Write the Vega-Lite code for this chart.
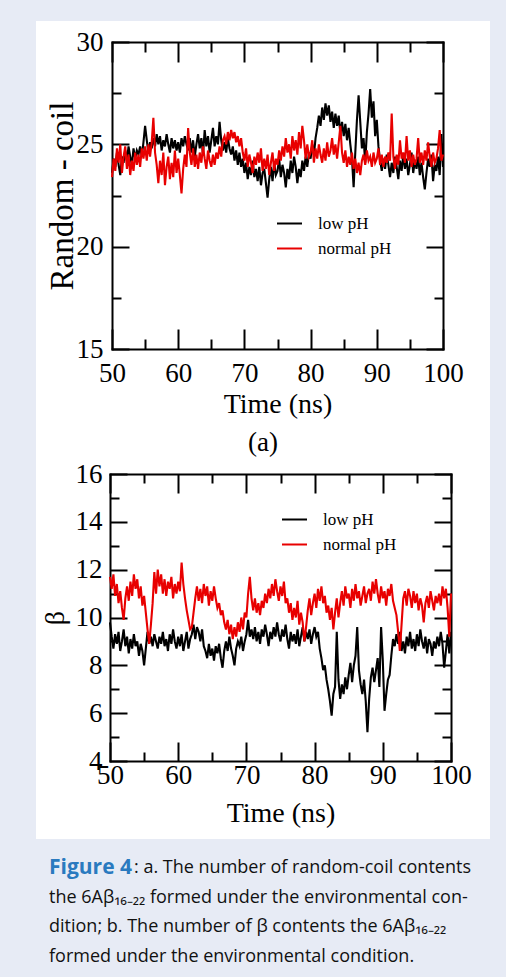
{
"$schema": "https://vega.github.io/schema/vega-lite/v6.json",
"background": "#e7ebf5",
"padding": {"left": 36, "top": 21, "right": 16, "bottom": 0},
"spacing": 0,
"bounds": "flush",
"config": {
  "view": {"fill": "white", "stroke": null},
  "axis": {"grid": false, "domainColor": "#000", "domainWidth": 2, "domainCap": "square", "tickColor": "#000", "tickWidth": 2, "labelFont": "Liberation Serif", "labelFontSize": 27, "labelColor": "#000", "labelFlush": false, "labelOverlap": false, "titleFont": "Liberation Serif", "titleFontWeight": "normal", "titleColor": "#000", "zindex": 1},
  "legend": {"orient": "none", "title": null, "symbolType": "stroke", "symbolSize": 625, "symbolStrokeWidth": 2, "labelFont": "Liberation Serif", "labelFontSize": 17, "labelColor": "#000", "labelOffset": 15, "rowPadding": 3, "padding": 0}
},
"resolve": {"scale": {"x": "independent", "y": "independent", "color": "independent"}, "legend": {"color": "independent"}},
"datasets": {
"rc": [
{"t":50,"low pH":23.6,"normal pH":23.4},{"t":50.25,"low pH":24.3,"normal pH":24.3},{"t":50.5,"low pH":23.9,"normal pH":23.7},{"t":50.75,"low pH":24.6,"normal pH":24.8},
{"t":51,"low pH":24.0,"normal pH":24.1},{"t":51.25,"low pH":23.5,"normal pH":25.0},{"t":51.5,"low pH":24.4,"normal pH":23.6},{"t":51.75,"low pH":24.1,"normal pH":24.4},
{"t":52,"low pH":24.7,"normal pH":24.9},{"t":52.25,"low pH":24.2,"normal pH":23.8},{"t":52.5,"low pH":24.9,"normal pH":24.5},{"t":52.75,"low pH":24.4,"normal pH":23.5},
{"t":53,"low pH":24.0,"normal pH":24.2},{"t":53.25,"low pH":24.8,"normal pH":23.7},{"t":53.5,"low pH":24.3,"normal pH":24.6},{"t":53.75,"low pH":24.7,"normal pH":24.0},
{"t":54,"low pH":24.5,"normal pH":24.5},{"t":54.25,"low pH":24.9,"normal pH":23.9},{"t":54.5,"low pH":24.4,"normal pH":24.8},{"t":54.75,"low pH":25.1,"normal pH":24.3},
{"t":55,"low pH":25.9,"normal pH":24.9},{"t":55.25,"low pH":25.2,"normal pH":24.2},{"t":55.5,"low pH":24.6,"normal pH":25.0},{"t":55.75,"low pH":25.1,"normal pH":24.4},
{"t":56,"low pH":24.8,"normal pH":25.1},{"t":56.25,"low pH":25.3,"normal pH":26.3},{"t":56.5,"low pH":24.9,"normal pH":24.6},{"t":56.75,"low pH":25.5,"normal pH":24.0},
{"t":57,"low pH":25.0,"normal pH":23.1},{"t":57.25,"low pH":25.4,"normal pH":24.2},{"t":57.5,"low pH":24.7,"normal pH":23.5},{"t":57.75,"low pH":25.2,"normal pH":24.6},
{"t":58,"low pH":24.9,"normal pH":23.0},{"t":58.25,"low pH":25.5,"normal pH":23.9},{"t":58.5,"low pH":25.0,"normal pH":24.4},{"t":58.75,"low pH":24.6,"normal pH":23.3},
{"t":59,"low pH":25.3,"normal pH":24.1},{"t":59.25,"low pH":24.8,"normal pH":23.4},{"t":59.5,"low pH":25.2,"normal pH":24.7},{"t":59.75,"low pH":24.7,"normal pH":23.6},
{"t":60,"low pH":25.1,"normal pH":24.3},{"t":60.25,"low pH":24.6,"normal pH":23.5},{"t":60.5,"low pH":25.3,"normal pH":22.6},{"t":60.75,"low pH":24.9,"normal pH":23.8},
{"t":61,"low pH":25.4,"normal pH":24.5},{"t":61.25,"low pH":25.0,"normal pH":23.9},{"t":61.5,"low pH":24.7,"normal pH":25.8},{"t":61.75,"low pH":25.3,"normal pH":24.6},
{"t":62,"low pH":24.6,"normal pH":24.0},{"t":62.25,"low pH":25.2,"normal pH":24.8},{"t":62.5,"low pH":24.4,"normal pH":23.9},{"t":62.75,"low pH":25.0,"normal pH":24.5},
{"t":63,"low pH":25.5,"normal pH":23.8},{"t":63.25,"low pH":24.8,"normal pH":24.6},{"t":63.5,"low pH":25.3,"normal pH":24.1},{"t":63.75,"low pH":24.5,"normal pH":24.9},
{"t":64,"low pH":25.7,"normal pH":24.3},{"t":64.25,"low pH":24.9,"normal pH":23.8},{"t":64.5,"low pH":25.4,"normal pH":24.7},{"t":64.75,"low pH":24.6,"normal pH":24.2},
{"t":65,"low pH":25.2,"normal pH":23.9},{"t":65.25,"low pH":25.8,"normal pH":24.5},{"t":65.5,"low pH":24.9,"normal pH":24.0},{"t":65.75,"low pH":25.4,"normal pH":24.6},
{"t":66,"low pH":25.0,"normal pH":24.3},{"t":66.25,"low pH":26.1,"normal pH":24.9},{"t":66.5,"low pH":25.2,"normal pH":24.4},{"t":66.75,"low pH":24.7,"normal pH":25.2},
{"t":67,"low pH":25.1,"normal pH":25.4},{"t":67.25,"low pH":24.6,"normal pH":25.0},{"t":67.5,"low pH":25.3,"normal pH":25.6},{"t":67.75,"low pH":24.8,"normal pH":25.2},
{"t":68,"low pH":24.5,"normal pH":25.7},{"t":68.25,"low pH":24.9,"normal pH":25.3},{"t":68.5,"low pH":24.2,"normal pH":25.6},{"t":68.75,"low pH":24.7,"normal pH":25.1},
{"t":69,"low pH":24.0,"normal pH":25.4},{"t":69.25,"low pH":24.6,"normal pH":24.9},{"t":69.5,"low pH":23.9,"normal pH":25.3},{"t":69.75,"low pH":24.3,"normal pH":24.6},
{"t":70,"low pH":23.6,"normal pH":24.2},{"t":70.25,"low pH":24.1,"normal pH":24.8},{"t":70.5,"low pH":23.3,"normal pH":23.9},{"t":70.75,"low pH":23.9,"normal pH":24.5},
{"t":71,"low pH":23.5,"normal pH":24.1},{"t":71.25,"low pH":24.2,"normal pH":23.6},{"t":71.5,"low pH":23.4,"normal pH":24.4},{"t":71.75,"low pH":23.8,"normal pH":24.0},
{"t":72,"low pH":23.2,"normal pH":24.6},{"t":72.25,"low pH":23.9,"normal pH":24.1},{"t":72.5,"low pH":23.0,"normal pH":24.8},{"t":72.75,"low pH":23.6,"normal pH":23.7},
{"t":73,"low pH":23.8,"normal pH":24.3},{"t":73.25,"low pH":23.1,"normal pH":23.8},{"t":73.5,"low pH":22.4,"normal pH":24.5},{"t":73.75,"low pH":23.3,"normal pH":23.5},
{"t":74,"low pH":23.9,"normal pH":24.1},{"t":74.25,"low pH":23.2,"normal pH":24.6},{"t":74.5,"low pH":24.1,"normal pH":23.7},{"t":74.75,"low pH":23.5,"normal pH":24.3},
{"t":75,"low pH":23.7,"normal pH":24.0},{"t":75.25,"low pH":24.3,"normal pH":24.7},{"t":75.5,"low pH":23.4,"normal pH":24.2},{"t":75.75,"low pH":24.0,"normal pH":24.9},
{"t":76,"low pH":23.6,"normal pH":24.4},{"t":76.25,"low pH":22.9,"normal pH":25.3},{"t":76.5,"low pH":23.8,"normal pH":24.6},{"t":76.75,"low pH":23.3,"normal pH":25.0},
{"t":77,"low pH":24.2,"normal pH":24.3},{"t":77.25,"low pH":23.6,"normal pH":25.4},{"t":77.5,"low pH":24.4,"normal pH":24.7},{"t":77.75,"low pH":23.9,"normal pH":25.2},
{"t":78,"low pH":23.1,"normal pH":24.5},{"t":78.25,"low pH":23.8,"normal pH":25.6},{"t":78.5,"low pH":23.4,"normal pH":24.8},{"t":78.75,"low pH":24.2,"normal pH":25.9},
{"t":79,"low pH":23.7,"normal pH":25.2},{"t":79.25,"low pH":24.4,"normal pH":24.3},{"t":79.5,"low pH":23.9,"normal pH":25.0},{"t":79.75,"low pH":24.6,"normal pH":24.4},
{"t":80,"low pH":24.3,"normal pH":24.6},{"t":80.25,"low pH":25.0,"normal pH":25.2},{"t":80.5,"low pH":24.5,"normal pH":24.1},{"t":80.75,"low pH":25.3,"normal pH":24.8},
{"t":81,"low pH":25.8,"normal pH":24.3},{"t":81.25,"low pH":26.4,"normal pH":25.0},{"t":81.5,"low pH":25.9,"normal pH":24.5},{"t":81.75,"low pH":26.8,"normal pH":24.1},
{"t":82,"low pH":26.2,"normal pH":24.8},{"t":82.25,"low pH":27.0,"normal pH":24.2},{"t":82.5,"low pH":26.4,"normal pH":25.1},{"t":82.75,"low pH":26.9,"normal pH":24.4},
{"t":83,"low pH":26.1,"normal pH":24.7},{"t":83.25,"low pH":26.6,"normal pH":25.3},{"t":83.5,"low pH":25.8,"normal pH":24.5},{"t":83.75,"low pH":26.5,"normal pH":25.0},
{"t":84,"low pH":25.9,"normal pH":24.3},{"t":84.25,"low pH":26.4,"normal pH":25.1},{"t":84.5,"low pH":25.5,"normal pH":25.9},{"t":84.75,"low pH":26.1,"normal pH":24.6},
{"t":85,"low pH":25.4,"normal pH":24.1},{"t":85.25,"low pH":26.0,"normal pH":24.7},{"t":85.5,"low pH":25.2,"normal pH":23.9},{"t":85.75,"low pH":25.8,"normal pH":24.4},
{"t":86,"low pH":25.0,"normal pH":24.0},{"t":86.25,"low pH":24.3,"normal pH":24.6},{"t":86.5,"low pH":22.9,"normal pH":23.8},{"t":86.75,"low pH":24.6,"normal pH":24.3},
{"t":87,"low pH":26.2,"normal pH":23.6},{"t":87.25,"low pH":27.4,"normal pH":24.1},{"t":87.5,"low pH":26.1,"normal pH":23.5},{"t":87.75,"low pH":24.8,"normal pH":24.2},
{"t":88,"low pH":25.3,"normal pH":24.5},{"t":88.25,"low pH":24.1,"normal pH":24.0},{"t":88.5,"low pH":25.6,"normal pH":24.7},{"t":88.75,"low pH":26.5,"normal pH":24.2},
{"t":89,"low pH":27.7,"normal pH":24.4},{"t":89.25,"low pH":26.3,"normal pH":23.9},{"t":89.5,"low pH":27.1,"normal pH":24.6},{"t":89.75,"low pH":25.4,"normal pH":24.1},
{"t":90,"low pH":26.2,"normal pH":24.3},{"t":90.25,"low pH":24.9,"normal pH":24.8},{"t":90.5,"low pH":24.2,"normal pH":24.0},{"t":90.75,"low pH":23.7,"normal pH":24.5},
{"t":91,"low pH":24.3,"normal pH":23.9},{"t":91.25,"low pH":23.8,"normal pH":24.4},{"t":91.5,"low pH":24.5,"normal pH":24.1},{"t":91.75,"low pH":24.0,"normal pH":24.6},
{"t":92,"low pH":23.4,"normal pH":24.2},{"t":92.25,"low pH":24.1,"normal pH":26.5},{"t":92.5,"low pH":23.6,"normal pH":24.4},{"t":92.75,"low pH":24.4,"normal pH":23.8},
{"t":93,"low pH":23.9,"normal pH":24.5},{"t":93.25,"low pH":23.3,"normal pH":24.0},{"t":93.5,"low pH":24.2,"normal pH":25.2},{"t":93.75,"low pH":23.7,"normal pH":24.3},
{"t":94,"low pH":24.5,"normal pH":24.6},{"t":94.25,"low pH":23.8,"normal pH":24.1},{"t":94.5,"low pH":24.3,"normal pH":25.4},{"t":94.75,"low pH":23.5,"normal pH":24.2},
{"t":95,"low pH":24.0,"normal pH":24.7},{"t":95.25,"low pH":24.6,"normal pH":23.9},{"t":95.5,"low pH":23.6,"normal pH":24.5},{"t":95.75,"low pH":24.2,"normal pH":24.0},
{"t":96,"low pH":23.8,"normal pH":24.3},{"t":96.25,"low pH":24.4,"normal pH":25.3},{"t":96.5,"low pH":23.5,"normal pH":24.1},{"t":96.75,"low pH":24.1,"normal pH":24.6},
{"t":97,"low pH":23.4,"normal pH":24.0},{"t":97.25,"low pH":22.8,"normal pH":24.7},{"t":97.5,"low pH":23.6,"normal pH":24.2},{"t":97.75,"low pH":24.3,"normal pH":25.1},
{"t":98,"low pH":23.9,"normal pH":24.4},{"t":98.25,"low pH":24.5,"normal pH":23.9},{"t":98.5,"low pH":23.2,"normal pH":24.6},{"t":98.75,"low pH":24.0,"normal pH":24.1},
{"t":99,"low pH":23.7,"normal pH":24.3},{"t":99.25,"low pH":24.4,"normal pH":24.8},{"t":99.5,"low pH":23.5,"normal pH":25.7},{"t":99.75,"low pH":25.5,"normal pH":24.2},
{"t":100,"low pH":23.9,"normal pH":24.5}
],
"beta": [
{"t":50,"low pH":9.8,"normal pH":11.7},{"t":50.25,"low pH":9.2,"normal pH":11.2},{"t":50.5,"low pH":8.7,"normal pH":11.8},{"t":50.75,"low pH":9.3,"normal pH":10.9},
{"t":51,"low pH":8.9,"normal pH":11.4},{"t":51.25,"low pH":9.4,"normal pH":10.6},{"t":51.5,"low pH":8.6,"normal pH":11.1},{"t":51.75,"low pH":9.0,"normal pH":10.4},
{"t":52,"low pH":9.5,"normal pH":9.9},{"t":52.25,"low pH":8.8,"normal pH":10.8},{"t":52.5,"low pH":9.2,"normal pH":11.3},{"t":52.75,"low pH":8.5,"normal pH":10.7},
{"t":53,"low pH":9.1,"normal pH":11.5},{"t":53.25,"low pH":8.7,"normal pH":10.9},{"t":53.5,"low pH":9.3,"normal pH":11.8},{"t":53.75,"low pH":8.8,"normal pH":11.2},
{"t":54,"low pH":9.0,"normal pH":11.6},{"t":54.25,"low pH":8.4,"normal pH":10.8},{"t":54.5,"low pH":8.9,"normal pH":11.3},{"t":54.75,"low pH":8.6,"normal pH":10.5},
{"t":55,"low pH":8.0,"normal pH":10.9},{"t":55.25,"low pH":8.7,"normal pH":10.2},{"t":55.5,"low pH":9.4,"normal pH":9.5},{"t":55.75,"low pH":8.9,"normal pH":8.9},
{"t":56,"low pH":9.2,"normal pH":9.7},{"t":56.25,"low pH":8.8,"normal pH":10.6},{"t":56.5,"low pH":9.3,"normal pH":11.9},{"t":56.75,"low pH":9.0,"normal pH":11.0},
{"t":57,"low pH":8.7,"normal pH":12.0},{"t":57.25,"low pH":9.2,"normal pH":11.3},{"t":57.5,"low pH":8.9,"normal pH":11.8},{"t":57.75,"low pH":9.4,"normal pH":11.0},
{"t":58,"low pH":8.8,"normal pH":11.6},{"t":58.25,"low pH":9.1,"normal pH":10.9},{"t":58.5,"low pH":8.6,"normal pH":11.5},{"t":58.75,"low pH":9.3,"normal pH":11.2},
{"t":59,"low pH":8.9,"normal pH":11.7},{"t":59.25,"low pH":9.5,"normal pH":10.8},{"t":59.5,"low pH":9.0,"normal pH":11.4},{"t":59.75,"low pH":8.7,"normal pH":11.0},
{"t":60,"low pH":9.2,"normal pH":11.5},{"t":60.25,"low pH":8.8,"normal pH":11.1},{"t":60.5,"low pH":9.3,"normal pH":12.3},{"t":60.75,"low pH":8.6,"normal pH":11.4},
{"t":61,"low pH":9.0,"normal pH":10.8},{"t":61.25,"low pH":9.4,"normal pH":10.3},{"t":61.5,"low pH":8.7,"normal pH":9.9},{"t":61.75,"low pH":9.1,"normal pH":9.5},
{"t":62,"low pH":9.3,"normal pH":9.6},{"t":62.25,"low pH":9.7,"normal pH":10.2},{"t":62.5,"low pH":9.1,"normal pH":10.8},{"t":62.75,"low pH":9.6,"normal pH":11.3},
{"t":63,"low pH":9.4,"normal pH":10.7},{"t":63.25,"low pH":9.0,"normal pH":11.2},{"t":63.5,"low pH":9.5,"normal pH":10.6},{"t":63.75,"low pH":8.8,"normal pH":11.4},
{"t":64,"low pH":8.6,"normal pH":10.9},{"t":64.25,"low pH":8.3,"normal pH":11.3},{"t":64.5,"low pH":8.9,"normal pH":10.5},{"t":64.75,"low pH":8.4,"normal pH":11.1},
{"t":65,"low pH":8.7,"normal pH":10.7},{"t":65.25,"low pH":8.2,"normal pH":11.3},{"t":65.5,"low pH":8.8,"normal pH":10.8},{"t":65.75,"low pH":8.5,"normal pH":10.4},
{"t":66,"low pH":8.9,"normal pH":10.6},{"t":66.25,"low pH":8.3,"normal pH":10.1},{"t":66.5,"low pH":7.9,"normal pH":10.3},{"t":66.75,"low pH":8.6,"normal pH":9.8},
{"t":67,"low pH":9.0,"normal pH":9.5},{"t":67.25,"low pH":8.6,"normal pH":9.9},{"t":67.5,"low pH":9.2,"normal pH":9.3},{"t":67.75,"low pH":8.7,"normal pH":9.7},
{"t":68,"low pH":8.4,"normal pH":9.1},{"t":68.25,"low pH":8.0,"normal pH":9.6},{"t":68.5,"low pH":8.7,"normal pH":9.2},{"t":68.75,"low pH":9.0,"normal pH":9.8},
{"t":69,"low pH":8.8,"normal pH":9.4},{"t":69.25,"low pH":9.2,"normal pH":10.0},{"t":69.5,"low pH":8.6,"normal pH":9.5},{"t":69.75,"low pH":9.0,"normal pH":10.2},
{"t":70,"low pH":9.3,"normal pH":10.0},{"t":70.25,"low pH":9.9,"normal pH":11.0},{"t":70.5,"low pH":9.2,"normal pH":11.7},{"t":70.75,"low pH":9.5,"normal pH":10.8},
{"t":71,"low pH":9.1,"normal pH":10.3},{"t":71.25,"low pH":9.6,"normal pH":10.8},{"t":71.5,"low pH":9.0,"normal pH":10.2},{"t":71.75,"low pH":9.4,"normal pH":10.6},
{"t":72,"low pH":8.9,"normal pH":10.1},{"t":72.25,"low pH":9.5,"normal pH":10.7},{"t":72.5,"low pH":9.2,"normal pH":10.4},{"t":72.75,"low pH":9.7,"normal pH":11.0},
{"t":73,"low pH":9.3,"normal pH":10.6},{"t":73.25,"low pH":8.8,"normal pH":11.2},{"t":73.5,"low pH":9.4,"normal pH":10.8},{"t":73.75,"low pH":9.1,"normal pH":11.4},
{"t":74,"low pH":9.6,"normal pH":10.9},{"t":74.25,"low pH":9.2,"normal pH":11.6},{"t":74.5,"low pH":9.8,"normal pH":11.1},{"t":74.75,"low pH":9.3,"normal pH":10.7},
{"t":75,"low pH":9.0,"normal pH":11.3},{"t":75.25,"low pH":9.5,"normal pH":10.9},{"t":75.5,"low pH":9.2,"normal pH":11.5},{"t":75.75,"low pH":9.7,"normal pH":10.6},
{"t":76,"low pH":9.1,"normal pH":10.8},{"t":76.25,"low pH":8.7,"normal pH":10.2},{"t":76.5,"low pH":9.4,"normal pH":10.6},{"t":76.75,"low pH":9.0,"normal pH":9.9},
{"t":77,"low pH":9.3,"normal pH":10.4},{"t":77.25,"low pH":8.9,"normal pH":10.0},{"t":77.5,"low pH":9.5,"normal pH":10.7},{"t":77.75,"low pH":8.8,"normal pH":9.7},
{"t":78,"low pH":9.2,"normal pH":10.2},{"t":78.25,"low pH":9.6,"normal pH":9.8},{"t":78.5,"low pH":9.0,"normal pH":9.0},{"t":78.75,"low pH":9.4,"normal pH":9.6},
{"t":79,"low pH":9.1,"normal pH":10.3},{"t":79.25,"low pH":9.5,"normal pH":10.8},{"t":79.5,"low pH":8.9,"normal pH":10.1},{"t":79.75,"low pH":9.3,"normal pH":10.6},
{"t":80,"low pH":9.6,"normal pH":11.0},{"t":80.25,"low pH":9.2,"normal pH":10.4},{"t":80.5,"low pH":9.4,"normal pH":11.2},{"t":80.75,"low pH":8.7,"normal pH":10.7},
{"t":81,"low pH":8.3,"normal pH":11.3},{"t":81.25,"low pH":7.8,"normal pH":10.6},{"t":81.5,"low pH":8.0,"normal pH":10.9},{"t":81.75,"low pH":7.4,"normal pH":10.2},
{"t":82,"low pH":7.0,"normal pH":10.5},{"t":82.25,"low pH":6.5,"normal pH":9.9},{"t":82.5,"low pH":5.9,"normal pH":10.4},{"t":82.75,"low pH":6.8,"normal pH":9.5},
{"t":83,"low pH":7.1,"normal pH":10.2},{"t":83.25,"low pH":9.4,"normal pH":10.8},{"t":83.5,"low pH":7.4,"normal pH":10.0},{"t":83.75,"low pH":6.6,"normal pH":10.6},
{"t":84,"low pH":7.2,"normal pH":11.1},{"t":84.25,"low pH":6.8,"normal pH":10.5},{"t":84.5,"low pH":7.5,"normal pH":11.3},{"t":84.75,"low pH":7.0,"normal pH":10.8},
{"t":85,"low pH":7.6,"normal pH":11.0},{"t":85.25,"low pH":8.1,"normal pH":10.4},{"t":85.5,"low pH":7.3,"normal pH":11.2},{"t":85.75,"low pH":8.0,"normal pH":10.7},
{"t":86,"low pH":8.4,"normal pH":11.4},{"t":86.25,"low pH":9.6,"normal pH":10.8},{"t":86.5,"low pH":7.8,"normal pH":11.1},{"t":86.75,"low pH":7.2,"normal pH":10.5},
{"t":87,"low pH":6.8,"normal pH":10.9},{"t":87.25,"low pH":7.4,"normal pH":11.3},{"t":87.5,"low pH":6.5,"normal pH":10.6},{"t":87.75,"low pH":5.2,"normal pH":11.0},
{"t":88,"low pH":6.6,"normal pH":11.2},{"t":88.25,"low pH":7.5,"normal pH":10.7},{"t":88.5,"low pH":7.9,"normal pH":11.5},{"t":88.75,"low pH":7.3,"normal pH":11.0},
{"t":89,"low pH":7.8,"normal pH":11.6},{"t":89.25,"low pH":8.3,"normal pH":11.0},{"t":89.5,"low pH":7.1,"normal pH":10.6},{"t":89.75,"low pH":9.6,"normal pH":11.3},
{"t":90,"low pH":8.2,"normal pH":10.8},{"t":90.25,"low pH":6.1,"normal pH":11.1},{"t":90.5,"low pH":6.8,"normal pH":10.5},{"t":90.75,"low pH":7.4,"normal pH":11.2},
{"t":91,"low pH":7.6,"normal pH":10.9},{"t":91.25,"low pH":8.4,"normal pH":11.4},{"t":91.5,"low pH":9.1,"normal pH":10.7},{"t":91.75,"low pH":8.8,"normal pH":10.4},
{"t":92,"low pH":9.3,"normal pH":10.1},{"t":92.25,"low pH":8.9,"normal pH":9.4},{"t":92.5,"low pH":9.4,"normal pH":8.6},{"t":92.75,"low pH":8.6,"normal pH":9.7},
{"t":93,"low pH":9.0,"normal pH":10.8},{"t":93.25,"low pH":8.5,"normal pH":11.1},{"t":93.5,"low pH":9.2,"normal pH":10.5},{"t":93.75,"low pH":8.8,"normal pH":11.2},
{"t":94,"low pH":9.4,"normal pH":10.9},{"t":94.25,"low pH":8.7,"normal pH":10.4},{"t":94.5,"low pH":9.1,"normal pH":11.1},{"t":94.75,"low pH":8.6,"normal pH":10.6},
{"t":95,"low pH":9.3,"normal pH":11.0},{"t":95.25,"low pH":8.8,"normal pH":10.3},{"t":95.5,"low pH":9.5,"normal pH":10.8},{"t":95.75,"low pH":9.0,"normal pH":10.5},
{"t":96,"low pH":8.7,"normal pH":9.8},{"t":96.25,"low pH":9.2,"normal pH":10.6},{"t":96.5,"low pH":8.5,"normal pH":10.9},{"t":96.75,"low pH":9.1,"normal pH":10.4},
{"t":97,"low pH":8.9,"normal pH":11.1},{"t":97.25,"low pH":8.4,"normal pH":10.7},{"t":97.5,"low pH":9.0,"normal pH":10.3},{"t":97.75,"low pH":8.7,"normal pH":10.9},
{"t":98,"low pH":9.2,"normal pH":10.6},{"t":98.25,"low pH":8.8,"normal pH":11.0},{"t":98.5,"low pH":9.4,"normal pH":10.5},{"t":98.75,"low pH":8.9,"normal pH":11.3},
{"t":99,"low pH":7.9,"normal pH":10.8},{"t":99.25,"low pH":8.6,"normal pH":11.2},{"t":99.5,"low pH":9.3,"normal pH":10.4},{"t":99.75,"low pH":8.5,"normal pH":9.2},
{"t":100,"low pH":9.4,"normal pH":11.0}
],
"cap": [
{"line":1,"part":"fig","text":"Figure 4"},
{"line":1,"part":"rest","text":": a.  The number of random-coil contents"},
{"line":2,"part":"body","text":"the 6Aβ₁₆₋₂₂ formed under the environmental con-"},
{"line":3,"part":"body","text":"dition; b.  The number of β contents the 6Aβ₁₆₋₂₂"},
{"line":4,"part":"body","text":"formed under the environmental condition."}
]
},
"vconcat": [
{
  "width": 454, "height": 437,
  "title": {"text": "(a)", "orient": "bottom", "frame": "group", "anchor": "middle", "offset": -15, "baseline": "middle", "font": "Liberation Serif", "fontSize": 27, "fontWeight": "normal", "color": "#000"},
  "data": {"name": "rc"},
  "transform": [{"fold": ["low pH", "normal pH"], "as": ["series", "value"]}],
  "layer": [
    {
      "mark": {"type": "line", "strokeWidth": 2.1},
      "encoding": {
        "x": {"field": "t", "type": "quantitative", "scale": {"domain": [50, 100], "range": [76, 407], "nice": false, "zero": false},
          "axis": {"orient": "bottom", "offset": -109, "values": [50,60,70,80,90,100], "tickSize": -20, "labelPadding": 52, "labelBaseline": "alphabetic", "title": "Time (ns)", "titleFontSize": 28, "titlePadding": 4}},
        "y": {"field": "value", "type": "quantitative", "scale": {"domain": [15, 30], "range": [328, 21], "nice": false, "zero": false},
          "axis": {"orient": "left", "offset": -76, "values": [15,20,25,30], "tickSize": -17, "labelPadding": 26, "title": "Random - coil", "titleFontSize": 33, "titlePadding": -3}},
        "color": {"field": "series", "type": "nominal", "scale": {"domain": ["low pH", "normal pH"], "range": ["#000000", "#e80000"]}, "legend": {"legendX": 240, "legendY": 189}}
      }
    },
    {
      "transform": [{"filter": "false"}],
      "mark": "point",
      "encoding": {
        "x": {"field": "t", "type": "quantitative", "axis": {"orient": "top", "offset": -21, "values": [50,60,70,80,90,100], "labels": false, "title": null, "tickSize": -20}},
        "y": {"field": "value", "type": "quantitative", "axis": {"orient": "right", "offset": -47, "values": [15,20,25,30], "labels": false, "title": null, "tickSize": -17}}
      }
    },
    {
      "transform": [{"filter": "false"}],
      "mark": "point",
      "encoding": {
        "x": {"field": "t", "type": "quantitative", "axis": {"orient": "bottom", "offset": -109, "values": [55,65,75,85,95], "labels": false, "domain": false, "title": null, "tickSize": -10}},
        "y": {"field": "value", "type": "quantitative", "axis": {"orient": "left", "offset": -76, "values": [17.5,22.5,27.5], "labels": false, "domain": false, "title": null, "tickSize": -9}}
      }
    },
    {
      "transform": [{"filter": "false"}],
      "mark": "point",
      "encoding": {
        "x": {"field": "t", "type": "quantitative", "axis": {"orient": "top", "offset": -21, "values": [55,65,75,85,95], "labels": false, "domain": false, "title": null, "tickSize": -10}},
        "y": {"field": "value", "type": "quantitative", "axis": {"orient": "right", "offset": -47, "values": [17.5,22.5,27.5], "labels": false, "domain": false, "title": null, "tickSize": -9}}
      }
    }
  ],
  "resolve": {"axis": {"x": "independent", "y": "independent"}}
},
{
  "width": 454, "height": 381,
  "data": {"name": "beta"},
  "transform": [{"fold": ["low pH", "normal pH"], "as": ["series", "value"]}],
  "layer": [
    {
      "mark": {"type": "line", "strokeWidth": 2.1},
      "encoding": {
        "x": {"field": "t", "type": "quantitative", "scale": {"domain": [50, 100], "range": [74, 415], "nice": false, "zero": false},
          "axis": {"orient": "bottom", "offset": -78, "values": [50,60,70,80,90,100], "tickSize": -19, "labelPadding": 41, "labelBaseline": "alphabetic", "title": "Time (ns)", "titleFontSize": 28, "titlePadding": 11}},
        "y": {"field": "value", "type": "quantitative", "scale": {"domain": [4, 16], "range": [303, 16], "nice": false, "zero": false},
          "axis": {"orient": "left", "offset": -74, "values": [4,6,8,10,12,14,16], "tickSize": -17, "labelPadding": 25, "title": "β", "titleFontSize": 28, "titlePadding": 6}},
        "color": {"field": "series", "type": "nominal", "scale": {"domain": ["low pH", "normal pH"], "range": ["#000000", "#e80000"]}, "legend": {"legendX": 245, "legendY": 48}}
      }
    },
    {
      "transform": [{"filter": "false"}],
      "mark": "point",
      "encoding": {
        "x": {"field": "t", "type": "quantitative", "axis": {"orient": "top", "offset": -16, "values": [50,60,70,80,90,100], "labels": false, "title": null, "tickSize": -19}},
        "y": {"field": "value", "type": "quantitative", "axis": {"orient": "right", "offset": -39, "values": [4,6,8,10,12,14,16], "labels": false, "title": null, "tickSize": -17}}
      }
    },
    {
      "transform": [{"filter": "false"}],
      "mark": "point",
      "encoding": {
        "x": {"field": "t", "type": "quantitative", "axis": {"orient": "bottom", "offset": -78, "values": [55,65,75,85,95], "labels": false, "domain": false, "title": null, "tickSize": -9}},
        "y": {"field": "value", "type": "quantitative", "axis": {"orient": "left", "offset": -74, "values": [5,7,9,11,13,15], "labels": false, "domain": false, "title": null, "tickSize": -9}}
      }
    },
    {
      "transform": [{"filter": "false"}],
      "mark": "point",
      "encoding": {
        "x": {"field": "t", "type": "quantitative", "axis": {"orient": "top", "offset": -16, "values": [55,65,75,85,95], "labels": false, "domain": false, "title": null, "tickSize": -9}},
        "y": {"field": "value", "type": "quantitative", "axis": {"orient": "right", "offset": -39, "values": [5,7,9,11,13,15], "labels": false, "domain": false, "title": null, "tickSize": -9}}
      }
    }
  ],
  "resolve": {"axis": {"x": "independent", "y": "independent"}}
},
{
  "width": 454, "height": 138,
  "view": {"fill": null},
  "data": {"name": "cap"},
  "encoding": {"y": {"field": "line", "type": "ordinal", "scale": {"type": "point", "domain": [1,2,3,4], "range": [29, 118], "padding": 0}, "axis": null}},
  "layer": [
    {"transform": [{"filter": "datum.part === 'fig'"}], "mark": {"type": "text", "x": 13, "align": "left", "baseline": "middle", "font": "Open Sans", "fontSize": 21, "fontWeight": "bold", "color": "#2a7abf"}, "encoding": {"text": {"field": "text"}}},
    {"transform": [{"filter": "datum.part === 'rest'"}], "mark": {"type": "text", "x": 13, "dx": 85, "align": "left", "baseline": "middle", "font": "Open Sans", "fontSize": 18, "color": "#111"}, "encoding": {"text": {"field": "text"}}},
    {"transform": [{"filter": "datum.part === 'body'"}], "mark": {"type": "text", "x": 13, "align": "left", "baseline": "middle", "font": "Open Sans", "fontSize": 18, "color": "#111"}, "encoding": {"text": {"field": "text"}}}
  ]
}
]
}
